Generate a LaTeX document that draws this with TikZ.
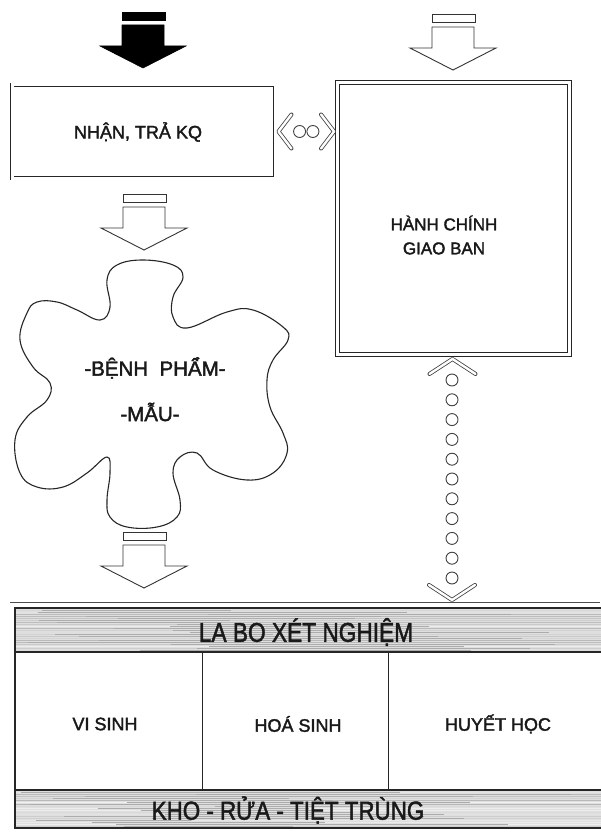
\documentclass[tikz,border=0pt]{standalone}
\usepackage{fontspec}
\usepackage{graphicx}
\setmainfont{Liberation Sans}[BoldFont=Liberation Sans, BoldFeatures={FakeBold=2}]
\usetikzlibrary{calc}
\tikzset{
  dbox/.style={draw=black!85, double=white, double distance=3pt, line width=0.9pt, inner sep=0pt},
  txt/.style={inner sep=0pt, text=black!90, font=\bfseries},
  chev/.style={draw=black!75, double=white, double distance=2.4pt, line width=0.8pt, line cap=round, line join=round},
  dot/.style={draw=black!75, line width=0.9pt},
  blockarrow/.pic={
    \path[pic actions] (-21,-56) rectangle (22,-48);
    \path[pic actions] (-21,-43) -- (21,-43) -- (21,-22) -- (43,-22) -- (0,0) -- (-43,-22) -- (-21,-22) -- cycle;
  },
  band/.style={fill=gray!25, draw=none}
}
\begin{document}
\begin{tikzpicture}[x=1pt,y=-1pt]
\useasboundingbox[fill=white] (0,0) rectangle (600,832);

% block arrows
\pic[fill=black, draw=black, line width=0.6pt] at (143,68) {blockarrow};
\pic[fill=white, draw=black!80, line width=0.9pt] at (453,70) {blockarrow};
\pic[fill=white, draw=black!80, line width=0.9pt] at (144,250) {blockarrow};
\pic[fill=white, draw=black!80, line width=0.9pt] at (144,588) {blockarrow};

% boxes
\node[dbox, minimum width=263, minimum height=93] (recv) at (143.5,131.5) {};
\node[txt, font=\bfseries\fontsize{18}{20}\selectfont] (recvt) at (138,132) {NHẬN, TRẢ KQ};
\node[dbox, minimum width=232, minimum height=272] (admin) at (453.5,218.5) {};
\node[txt, font=\bfseries\fontsize{17}{24}\selectfont, align=center] (admint) at (444,235) {HÀNH CHÍNH\\GIAO BAN};

% horizontal connector between boxes
\coordinate (lt) at ($(recv.east)+(3,0)$);
\coordinate (rt) at ($(admin.west |- recv.east)+(-3,0)$);
\draw[chev] ($(lt)+(13,-17)$) -- (lt) -- ($(lt)+(13,17)$);
\draw[chev] ($(rt)+(-13,-17)$) -- (rt) -- ($(rt)+(-13,17)$);
\node[dot, circle, minimum size=12, inner sep=0pt] (c1) at ($(lt)!0.38!(rt)$) {};
\node[dot, circle, minimum size=12, inner sep=0pt] (c2) at ($(lt)!0.62!(rt)$) {};

% blob
\draw[line width=1.1pt, black!85] plot[smooth cycle, tension=0.68] coordinates {
(110,307) (107,280) (117,265) (143,260) (173,265) (183,277) (173,297) (173,317)
(187,328) (227,312) (253,310) (283,327) (288,340) (273,360) (267,380) (270,407)
(283,433) (287,453) (273,473) (247,480) (213,470) (197,453) (180,457) (173,473)
(180,500) (177,517) (157,527) (127,527) (110,517) (107,500) (110,473) (107,457)
(87,473) (63,487) (37,487) (20,473) (15,440) (27,417) (47,400) (50,383)
(33,367) (20,340) (27,313) (37,302) (57,302) (77,310) (100,320)};
\node[txt, font=\bfseries\fontsize{20.5}{22}\selectfont] (blob) at (155,368) {-BỆNH\ \ PHẨM-};
\node[txt, font=\bfseries\fontsize{20.5}{22}\selectfont] (blob2) at (150,412) {-MẪU-};

% table
\draw[black!70, line width=0.6pt] (10,602) -- (600,602);
\fill[band] (15,608) rectangle (602,652);
\fill[band] (15,790) rectangle (602,828);
\pgfmathsetseed{7}
\foreach \yy in {610,612,...,650} {
  \pgfmathsetmacro\gg{int(35+25*rand)}
  \pgfmathsetmacro\xa{15+200*rnd}
  \pgfmathsetmacro\xb{\xa+150+250*rnd}
  \draw[gray!\gg, line width=1pt] (15,\yy) -- (602,\yy);
  \draw[gray!65, line width=1pt] (\xa,\yy) -- (\xb,\yy);
}
\foreach \yy in {792,794,...,827} {
  \pgfmathsetmacro\gg{int(35+25*rand)}
  \pgfmathsetmacro\xa{15+200*rnd}
  \pgfmathsetmacro\xb{\xa+150+250*rnd}
  \draw[gray!\gg, line width=1pt] (15,\yy) -- (602,\yy);
  \draw[gray!65, line width=1pt] (\xa,\yy) -- (\xb,\yy);
}
\draw[black!85, line width=1.3pt] (602,608) -- (15,608) -- (15,828) -- (602,828);
\draw[black!85, line width=2pt] (15,652) -- (602,652);
\draw[black!85, line width=2pt] (15,790) -- (602,790);
\draw[black!85, line width=0.9pt] (202,652) -- (202,790);
\draw[black!85, line width=0.9pt] (388,652) -- (388,790);

\node[txt, font=\bfseries\fontsize{27}{30}\selectfont] (lab) at (306,632) {\scalebox{0.84}[1]{LA BO XÉT NGHIỆM}};
\node[txt, font=\bfseries\fontsize{18}{20}\selectfont] (vs) at (105,724) {VI SINH};
\node[txt, font=\bfseries\fontsize{18}{20}\selectfont] (hs) at (298,724) {HOÁ SINH};
\node[txt, font=\bfseries\fontsize{18}{20}\selectfont] (hh) at (498,724) {HUYẾT HỌC};
\node[txt, font=\bfseries\fontsize{26}{30}\selectfont] (kho) at (288,810) {\scalebox{0.86}[1]{KHO - RỬA - TIỆT TRÙNG}};

% vertical connector
\coordinate (vt) at ($(admin.south)+(-1,4)$);
\coordinate (vb) at (452,600);
\draw[chev] ($(vt)+(-23,15)$) -- (vt) -- ($(vt)+(23,15)$);
\draw[chev] ($(vb)+(-23,-15)$) -- (vb) -- ($(vb)+(23,-15)$);
\foreach \i in {0,...,10} {
  \node[dot, circle, minimum size=12, inner sep=0pt] (v\i) at (452,380+19.8*\i) {};
}
\end{tikzpicture}
\end{document}
